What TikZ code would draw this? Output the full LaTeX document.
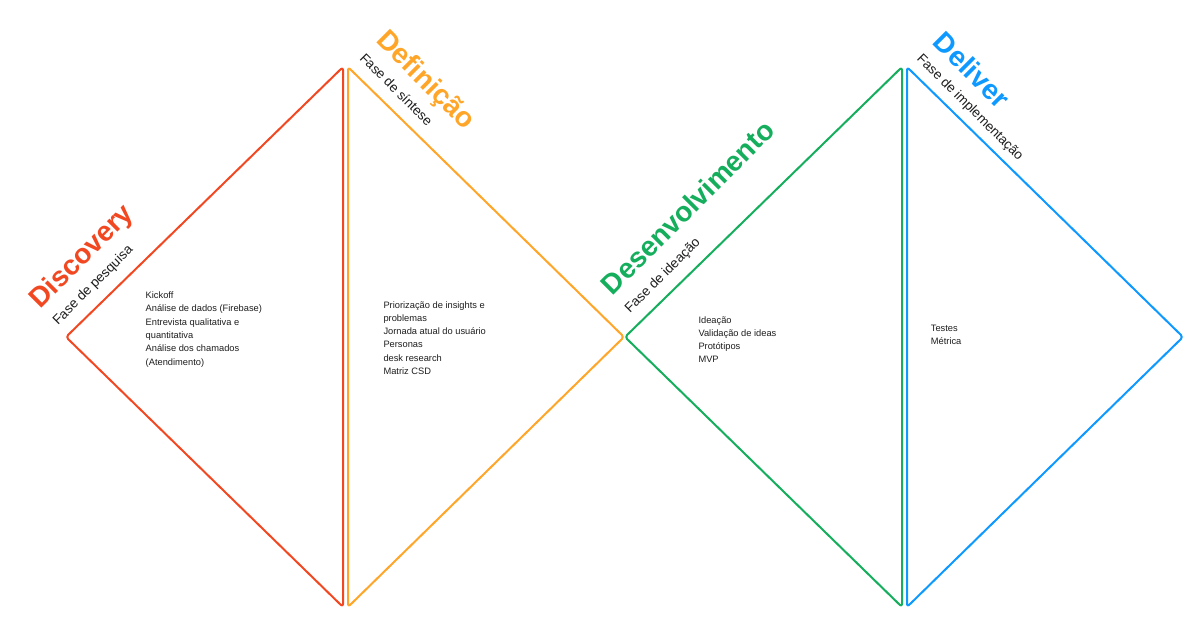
\documentclass[tikz,border=0pt]{standalone}
\usepackage{fontspec}
\setmainfont{Liberation Sans}
\definecolor{cred}{HTML}{F24822}
\definecolor{corange}{HTML}{FFA629}
\definecolor{cgreen}{HTML}{14AE5C}
\definecolor{cblue}{HTML}{0D99FF}
\definecolor{ctext}{HTML}{1E1E1E}
\begin{document}
\begin{tikzpicture}[x=1pt,y=-1pt,
  half/.style={line width=2pt, rounded corners=3pt, line join=round},
  title/.style={inner sep=0pt, anchor=base west, font=\fontsize{28}{30}\selectfont\bfseries},
  subtitle/.style={inner sep=0pt, anchor=base west, text=ctext, font=\fontsize{13.5}{15}\selectfont},
  body/.style={inner sep=0pt, anchor=base west, align=left, text=ctext, font=\fontsize{9.3}{13.3}\selectfont}]
\useasboundingbox (0,0) rectangle (1200,626);
\fill[white] (0,0) rectangle (1200,626);
% vertices
\coordinate (d1t) at (343,67);  \coordinate (d1l) at (66,337);   \coordinate (d1b) at (343,607);
\coordinate (d2t) at (348,67);  \coordinate (d2r) at (624,337);  \coordinate (d2b) at (348,607);
\coordinate (d3t) at (902,67);  \coordinate (d3l) at (625,337);  \coordinate (d3b) at (902,607);
\coordinate (d4t) at (907,67);  \coordinate (d4r) at (1183,337); \coordinate (d4b) at (907,607);
% shapes
\draw[half, cgreen] (d3t) -- (d3l) -- (d3b) -- cycle;
\draw[half, corange] (d2t) -- (d2r) -- (d2b) -- cycle;
\draw[half, cred] (d1t) -- (d1l) -- (d1b) -- cycle;
\draw[half, cblue] (d4t) -- (d4r) -- (d4b) -- cycle;
% titles
\node[title, text=cred, rotate=45] (t1) at (40.2,309.8) {Discovery};
\node[subtitle, rotate=45] (s1) at (57.9,326.0) {Fase de pesquisa};
\node[title, text=corange, rotate=-45] (t2) at (374.9,41.5) {Definição};
\node[subtitle, rotate=-45] (s2) at (359.0,58.9) {Fase de síntese};
\node[title, text=cgreen, rotate=45] (t3) at (612.6,296.3) {Desenvolvimento};
\node[subtitle, rotate=45] (s3) at (630.0,313.7) {Fase de ideação};
\node[title, text=cblue, rotate=-45] (t4) at (931.7,43.7) {Deliver};
\node[subtitle, rotate=-45] (s4) at (916.2,59.2) {Fase de implementação};
% body texts (anchored at the baseline of the last line)
\node[body] (b1) at (145.5,365) {Kickoff\\Análise de dados (Firebase)\\Entrevista qualitativa e\\quantitativa\\Análise dos chamados\\(Atendimento)};
\node[body] (b2) at (383.3,374.5) {Priorização de insights e\\problemas\\Jornada atual do usuário\\Personas\\desk research\\Matriz CSD};
\node[body] (b3) at (698.3,362.9) {Ideação\\Validação de ideas\\Protótipos\\MVP};
\node[body] (b4) at (930.7,344.3) {Testes\\Métrica};
\end{tikzpicture}
\end{document}
